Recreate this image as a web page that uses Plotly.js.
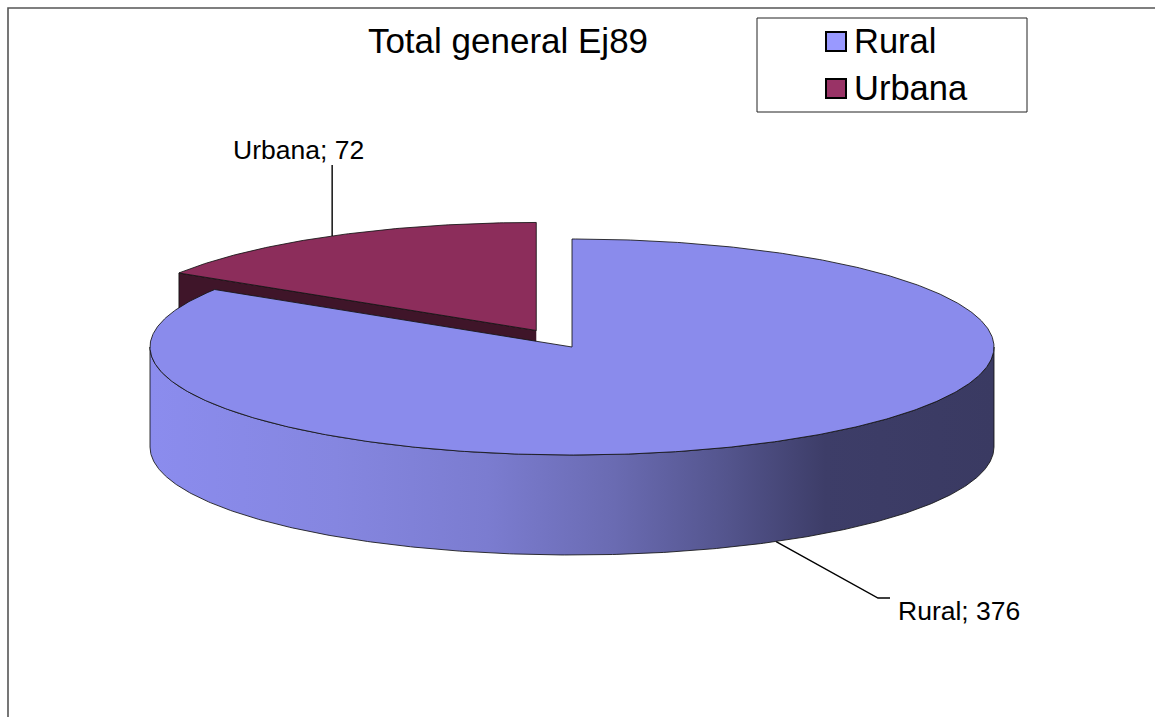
<!DOCTYPE html>
<html>
<head>
<meta charset="utf-8">
<script src="https://cdn.plot.ly/plotly-3.0.1.min.js"></script>
<style>html,body{margin:0;padding:0;background:#fff;}#chart{width:1155px;height:717px;}</style>
</head>
<body>
<div id="chart"></div>
<script>
// ---------- data ----------
const categories = ["Rural", "Urbana"];
const values = [376, 72];
const chartTitle = "Total general Ej89";

// ---------- styles ----------
const topColors = ["#8a8bec", "#8c2d5b"];
const legendColors = ["#9999ff", "#993366"];
const cutFaceColors = ["#3a3a60", "#3f1529"];
const wallScale = [
  [0.00, "#8b8cee"], [0.22, "#8586e0"], [0.40, "#7b7cd0"], [0.55, "#6a6bb2"],
  [0.68, "#54558e"], [0.80, "#3d3d68"], [1.00, "#3a3a62"]
];
const FONT = "Liberation Sans, Arial, sans-serif";

// ---------- projection of the 3-D pie (canvas units) ----------
const W = 1155, H = 717;
const CX = 572, CY = 347, RX = 422, RY = 108, DEPTH = 100;
const explodeFrac = [0, 0.175];
const DEG = Math.PI / 180;

const total = values.reduce((a, b) => a + b, 0);
const slices = [];
let acc = 0;
values.forEach((v, i) => {
  const a0 = acc / total * 360;
  acc += v;
  const a1 = acc / total * 360;
  const mid = (a0 + a1) / 2;
  const e = explodeFrac[i];
  slices.push({
    a0, a1, mid,
    ox: e * RX * Math.sin(mid * DEG),
    oy: -e * RY * Math.cos(mid * DEG)
  });
});

function pt(s, ang, z) {
  return [CX + s.ox + RX * Math.sin(ang * DEG), CY + s.oy - RY * Math.cos(ang * DEG) + z];
}
function arc(s, a, b, z) {
  const n = Math.max(2, Math.ceil(Math.abs(b - a) / 0.5));
  const out = [];
  for (let k = 0; k <= n; k++) out.push(pt(s, a + (b - a) * k / n, z));
  return out;
}
function centre(s, z) { return [CX + s.ox, CY + s.oy + z]; }

function poly(points, fill, extra) {
  return Object.assign({
    type: "scatter", mode: "lines",
    x: points.map(p => p[0]), y: points.map(p => p[1]),
    fill: "toself", fillcolor: fill,
    line: {color: "rgba(20,20,20,0.85)", width: 1},
    hoverinfo: "skip", showlegend: false
  }, extra || {});
}

const traces = [];
const R = slices[0], U = slices[1];

// Urbana cut face (visible because the slice is pulled out)
traces.push(poly([centre(U, 0), pt(U, U.a0, 0), pt(U, U.a0, DEPTH), centre(U, DEPTH)], cutFaceColors[1]));
// Urbana top face
traces.push(poly([centre(U, 0)].concat(arc(U, U.a0, U.a1, 0), [centre(U, 0)]), topColors[1]));
// Rural outer wall (front half only)
{
  const a = Math.max(90, R.a0), b = Math.min(270, R.a1);
  const wall = arc(R, a, b, 0).concat(arc(R, b, a, DEPTH));
  wall.push(wall[0]);
  traces.push(poly(wall, "#7070c0", {
    fillgradient: {type: "horizontal", colorscale: wallScale, start: CX - RX, stop: CX + RX}
  }));
}
// Rural top face
traces.push(poly([centre(R, 0)].concat(arc(R, R.a0, R.a1, 0), [centre(R, 0)]), topColors[0]));

// ---------- data labels with leader lines ----------
const uStart = pt(U, U.mid, 0);
const uLabelY = 165;
traces.push({type: "scatter", mode: "lines", x: [uStart[0], uStart[0]], y: [uStart[1], uLabelY],
  line: {color: "#000", width: 1.4}, hoverinfo: "skip", showlegend: false});
const rStart = pt(R, R.mid, DEPTH);
const rElbow = [878, 598], rEnd = [890, 598];
traces.push({type: "scatter", mode: "lines", x: [rStart[0], rElbow[0], rEnd[0]], y: [rStart[1], rElbow[1], rEnd[1]],
  line: {color: "#000", width: 1.4}, hoverinfo: "skip", showlegend: false});

const annotations = [
  {x: 298, y: 150, xref: "x", yref: "y", text: categories[1] + "; " + values[1], showarrow: false,
   xanchor: "center", yanchor: "middle", font: {family: FONT, size: 26.5, color: "#000"}},
  {x: 959, y: 611, xref: "x", yref: "y", text: categories[0] + "; " + values[0], showarrow: false,
   xanchor: "center", yanchor: "middle", font: {family: FONT, size: 26.5, color: "#000"}}
];

// ---------- legend (drawn) ----------
const legendRows = [41, 88];
const shapes = [
  // chart area border (right/bottom lie outside the picture)
  {type: "rect", xref: "x", yref: "y", x0: 8, y0: 8, x1: W + 20, y1: H + 20, line: {color: "#555", width: 1.6}, layer: "below"},
  // legend box
  {type: "rect", xref: "x", yref: "y", x0: 757, y0: 18, x1: 1027, y1: 112, line: {color: "#222", width: 1}, fillcolor: "#fff", layer: "below"}
];
categories.forEach((c, i) => {
  const yc = legendRows[i];
  shapes.push({type: "rect", xref: "x", yref: "y", x0: 826, x1: 846, y0: yc - 9, y1: yc + 10,
    fillcolor: legendColors[i], line: {color: "#000", width: 2}});
  annotations.push({x: 852, y: yc, xref: "x", yref: "y", text: c, showarrow: false,
    xanchor: "left", yanchor: "middle", font: {family: FONT, size: 34.5, color: "#000"}});
});

const layout = {
  width: W, height: H,
  margin: {l: 0, r: 0, t: 0, b: 0},
  paper_bgcolor: "#fff", plot_bgcolor: "#fff",
  showlegend: false,
  title: {text: chartTitle, x: 508 / W, xanchor: "center", xref: "paper",
          y: 1 - 41 / H, yanchor: "middle", yref: "container",
          font: {family: FONT, size: 35, color: "#000"}},
  xaxis: {range: [0, W], visible: false, fixedrange: true},
  yaxis: {range: [H, 0], visible: false, fixedrange: true},
  shapes: shapes,
  annotations: annotations
};

Plotly.newPlot("chart", traces, layout, {displayModeBar: false, staticPlot: true});
</script>
</body>
</html>
